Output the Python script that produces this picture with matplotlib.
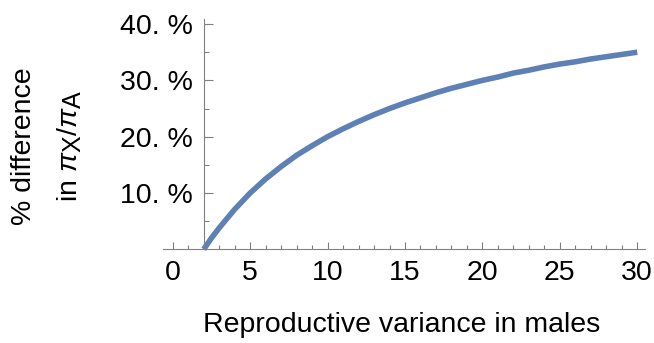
import numpy as np
import matplotlib.pyplot as plt
import matplotlib._mathtext as mtext
from matplotlib.ticker import MultipleLocator, FuncFormatter

plt.rcParams['font.family'] = ['Liberation Sans', 'DejaVu Sans']
plt.rcParams['mathtext.fontset'] = 'custom'
plt.rcParams['mathtext.rm'] = 'Liberation Sans'
plt.rcParams['mathtext.it'] = 'Liberation Sans:italic'
# subscripts in the reference are nearly full size
mtext.SHRINK_FACTOR = 0.88

# values (percent difference)
variance = [2, 2.5, 3, 4, 5, 6, 7, 8, 9, 10, 11, 12, 13, 14, 15, 16, 17, 18, 19, 20,
            21, 22, 23, 24, 25, 26, 27, 28, 29, 30]
pct_diff = [0, 2.0, 3.8, 7.1, 10.0, 12.5, 14.7, 16.7, 18.4, 20.0, 21.4, 22.7, 23.9, 25.0,
            26.0, 26.9, 27.8, 28.6, 29.3, 30.0, 30.6, 31.3, 31.8, 32.4, 32.9, 33.3, 33.8,
            34.2, 34.6, 35.0]

axis_col = '#808080'
line_col = '#5E81B5'
fs = 20.5

fig = plt.figure(figsize=(6.54, 3.43), dpi=100)
ax = fig.add_axes([163/654, 1 - 249.3/343, (645 - 163)/654, (249.3 - 19)/343])

ax.plot(variance, pct_diff, color=line_col, lw=4, solid_capstyle='butt', clip_on=False)

ax.set_xlim(-0.63, 30.5)
ax.set_ylim(0, 40.9)

for s in ['top', 'right']:
    ax.spines[s].set_visible(False)
ax.spines['left'].set_position(('data', 2))
ax.spines['bottom'].set_position(('data', 0))
for s in ['left', 'bottom']:
    ax.spines[s].set_color(axis_col)
    ax.spines[s].set_linewidth(0.8)

ax.xaxis.set_major_locator(MultipleLocator(5))
ax.xaxis.set_minor_locator(MultipleLocator(1))
ax.set_yticks([10, 20, 30, 40])
ax.set_yticks([5, 15, 25, 35], minor=True)
ax.yaxis.set_major_formatter(FuncFormatter(lambda v, p: f"{int(v)}. %"))

ax.tick_params(axis='x', which='major', direction='in', length=5, width=0.8, color=axis_col,
               labelsize=fs, pad=8)
ax.tick_params(axis='x', which='minor', direction='in', length=3, width=0.8, color=axis_col)
ax.tick_params(axis='y', which='major', direction='in', length=6.5, width=0.8, color=axis_col,
               labelsize=fs, pad=8)
ax.tick_params(axis='y', which='minor', direction='in', length=3.6, width=0.8, color=axis_col)

fig.text(402/654, 1 - 325/343, 'Reproductive variance in males', fontsize=fs,
         ha='center', va='center')
fig.text(24/654, 1 - 146/343, '% difference', fontsize=fs, rotation=90,
         ha='center', va='center')
fig.text(70/654, 1 - 146/343, r'in $\pi_{\mathrm{X}}/\pi_{\mathrm{A}}$', fontsize=fs,
         rotation=90, ha='center', va='center')

fig.savefig('out.png', dpi=100)
